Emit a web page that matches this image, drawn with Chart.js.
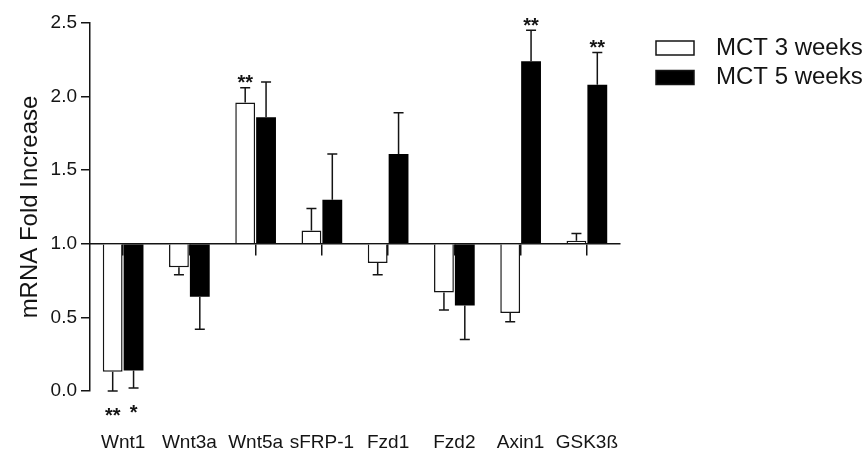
<!DOCTYPE html>
<html>
<head>
<meta charset="utf-8">
<title>mRNA fold increase</title>
<script src="https://cdn.jsdelivr.net/npm/chart.js"></script>
<style>
body{margin:0;background:#fff;}
</style>
</head>
<body>
<canvas id="chart" width="868" height="452"></canvas>
<script>
// values (fold change vs control, base = 1.0)
const genes=['Wnt1','Wnt3a','Wnt5a','sFRP-1','Fzd1','Fzd2','Axin1','GSK3ß'];
const seriesNames=['MCT 3 weeks','MCT 5 weeks'];
const mct3=[0.13,0.84,1.96,1.09,0.87,0.67,0.53,1.02];
const mct3Err=[0.13,0.05,0.10,0.15,0.08,0.12,0.06,0.05];
const mct5=[0.14,0.64,1.86,1.30,1.61,0.58,2.24,2.08];
const mct5Err=[0.12,0.22,0.24,0.31,0.28,0.23,0.21,0.22];
const mct3Sig=['**','','**','','','','',''];
const mct5Sig=['*','','','','','','**','**'];
const yTicks=[0,0.5,1,1.5,2,2.5];
const baseline=1.0;

const ink='#141414';
const fam='"Liberation Sans", Arial, sans-serif';
Chart.defaults.font.family=fam;
Chart.defaults.color=ink;

// one-sided error bars + significance stars
const errorBars={
  id:'errorBars',
  afterDatasetsDraw(chart){
    const ctx=chart.ctx, y=chart.scales.y;
    const vals=[mct3,mct5], errs=[mct3Err,mct5Err], sigs=[mct3Sig,mct5Sig];
    ctx.save();
    ctx.strokeStyle=ink;
    ctx.fillStyle=ink;
    ctx.lineWidth=1.5;
    ctx.font='bold 20px '+fam;
    ctx.textAlign='center';
    vals.forEach((vs,d)=>{
      chart.getDatasetMeta(d).data.forEach((bar,i)=>{
        const v=vs[i];
        const dir=v>=baseline?1:-1;
        const from=y.getPixelForValue(v);
        const end=y.getPixelForValue(v+dir*errs[d][i]);
        ctx.beginPath();
        ctx.moveTo(bar.x,from);
        ctx.lineTo(bar.x,end);
        ctx.moveTo(bar.x-5,end);
        ctx.lineTo(bar.x+5,end);
        ctx.stroke();
        const s=sigs[d][i];
        if(s){
          const mid=dir>0?end-10:end+20;
          ctx.fillText(s,bar.x,mid+0.57*20);
        }
      });
    });
    ctx.restore();
  }
};

const legendBoxes={
  id:'legendBoxes',
  afterDraw(chart){
    const ctx=chart.ctx;
    const x=chart.chartArea.right+36;
    ctx.save();
    ctx.font='24px '+fam;
    ctx.textBaseline='middle';
    chart.data.datasets.forEach((ds,i)=>{
      const top=41+i*29.5;
      ctx.fillStyle=ds.backgroundColor;
      ctx.fillRect(x,top,38,14);
      ctx.strokeStyle=ink;
      ctx.lineWidth=1.5;
      ctx.strokeRect(x,top,38,14);
      ctx.fillStyle=ink;
      ctx.fillText(ds.label,x+60,top+7);
    });
    ctx.restore();
  }
};

new Chart(document.getElementById('chart'),{
  type:'bar',
  data:{
    labels:genes,
    datasets:[
      {label:seriesNames[0],data:mct3,base:baseline,backgroundColor:'#ffffff',borderColor:ink,borderWidth:1.5,borderSkipped:'start'},
      {label:seriesNames[1],data:mct5,base:baseline,backgroundColor:'#000000',borderColor:'#000000',borderWidth:0}
    ]
  },
  options:{
    responsive:false,
    animation:false,
    categoryPercentage:0.63,
    barPercentage:0.95,
    layout:{padding:{left:0,right:248,top:23,bottom:0}},
    plugins:{legend:{display:false},tooltip:{enabled:false}},
    scales:{
      x:{
        position:{y:baseline},
        offset:true,
        grid:{offset:false,drawOnChartArea:false,color:ink,lineWidth:1.5,tickLength:11},
        border:{color:ink,width:1.5},
        ticks:{display:false}
      },
      xLabels:{
        type:'category',
        position:'bottom',
        offset:true,
        grid:{display:false,drawTicks:false},
        border:{display:false},
        ticks:{color:ink,font:{size:19},padding:40,maxRotation:0,autoSkip:false},
        afterFit(s){s.height=61;}
      },
      y:{
        min:0,max:2.5,
        afterBuildTicks(s){s.ticks=yTicks.map(v=>({value:v}));},
        ticks:{callback:v=>v.toFixed(1),color:ink,font:{size:19},padding:4},
        grid:{drawOnChartArea:false,color:ink,lineWidth:1.5,tickLength:9},
        border:{color:ink,width:1.5},
        title:{display:true,text:'mRNA Fold Increase',color:ink,font:{size:24},padding:{top:16,bottom:0}},
        afterFit(s){s.width=90;}
      }
    }
  },
  plugins:[errorBars,legendBoxes]
});
</script>
</body>
</html>
